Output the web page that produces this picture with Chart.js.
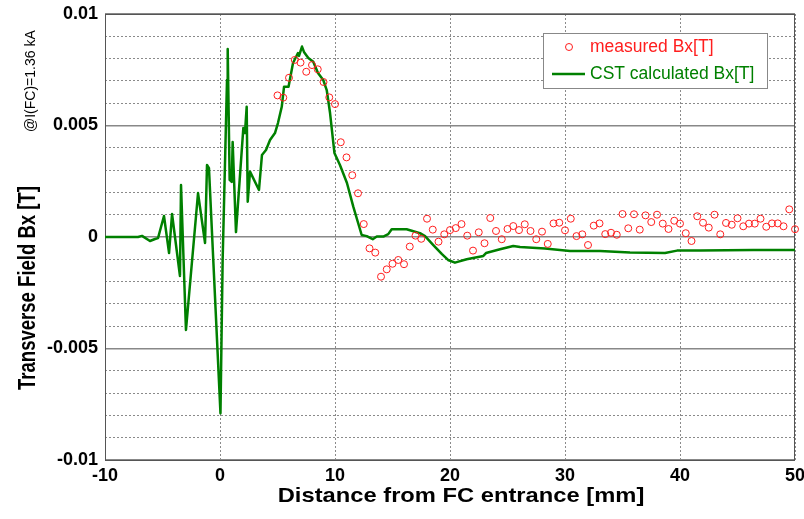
<!DOCTYPE html>
<html><head><meta charset="utf-8">
<script src="https://cdn.jsdelivr.net/npm/chart.js@4.4.1/dist/chart.umd.min.js"></script>
<style>html,body{margin:0;padding:0;background:#fff}#wrap{width:804px;height:519px;position:relative}</style>
</head><body><div id="wrap"><canvas id="c" width="804" height="519"></canvas></div>
<script>
// ---- data ----
const seriesNames = ['measured Bx[T]', 'CST calculated Bx[T]'];
const xTitle = 'Distance from FC entrance [mm]';
const yTitle = 'Transverse Field Bx [T]';
const ySubTitle = '@I(FC)=1.36 kA';
const xTickValues = [-10, 0, 10, 20, 30, 40, 50];
const yTickValues = [-0.01, -0.005, 0, 0.005, 0.01];
const yTickLabels = ['-0.01', '-0.005', '0', '0.005', '0.01'];

const cstX = [-10, -7.13, -6.78, -6.09, -5.65, -5.39, -5.13, -4.87, -4.43, -4.17, -3.48, -3.39, -2.96, -1.91, -1.30, -1.13, -0.96,
  0.04, 0.23, 0.61, 0.67, 0.84, 1.02, 1.10, 1.39, 2.03, 2.17, 2.32, 2.41, 2.61, 3.39, 3.65, 4.0, 4.35, 4.78, 5.04, 5.37, 5.57,
  5.96, 6.35, 6.78, 6.87, 7.13, 7.30, 7.68, 8.11, 8.52, 8.98, 9.28, 9.57, 9.95, 10.43, 11.04, 11.59, 12.32, 12.76, 13.28, 13.63,
  14.2, 14.63, 14.93, 16.23, 17.39, 17.83, 18.55, 19.28, 19.83, 20.43, 21.45, 22.9, 23.13, 24.35, 25.5, 26.09, 28.26, 30.43,
  33.04, 35.65, 38.7, 39.74, 41.74, 46.35, 50];
const cstY = [0, 0, 0.00005, -0.00018, -0.00009, -0.00005, 0.00045, 0.00094, -0.00072, 0.00103, -0.00175, 0.00233, -0.00417,
  0.00197, -0.00027, 0.00323, 0.00309,
  -0.0079, -0.00103, 0.00704, 0.00843, 0.00256, 0.00247, 0.00426, 0.00022, 0.00489, 0.00466, 0.00584, 0.00158, 0.00293,
  0.00211, 0.00368, 0.0039, 0.00435, 0.00466, 0.00511, 0.00584, 0.00674,
  0.00674, 0.0078, 0.00825, 0.00812, 0.00854, 0.0083, 0.00803, 0.00786, 0.00735, 0.00704, 0.00659, 0.00556, 0.00377,
  0.00323, 0.00242, 0.00136, 0.00009, 0.00004, -0.0001, 0.00002,
  0.00002, 0.00013, 0.00035, 0.00035, 0.00017, 0.00004, -0.00036, -0.00076, -0.00103, -0.00115, -0.001, -0.00085,
  -0.00072, -0.00055, -0.0004, -0.00045, -0.00052, -0.00063,
  -0.00063, -0.0007, -0.00072, -0.00061, -0.00061, -0.00058, -0.00058];

const measX = [5, 5.5, 6, 6.5, 7, 7.5, 8, 8.5, 9, 9.5, 10, 10.5, 11, 11.5, 12, 12.5, 13, 13.5, 14, 14.5, 15, 15.5, 16, 16.5,
  17, 17.5, 18, 18.5, 19, 19.5, 20, 20.5, 21, 21.5, 22, 22.5, 23, 23.5, 24, 24.5, 25, 25.5, 26, 26.5, 27, 27.5, 28, 28.5,
  29, 29.5, 30, 30.5, 31, 31.5, 32, 32.5, 33, 33.5, 34, 34.5, 35, 35.5, 36, 36.5, 37, 37.5, 38, 38.5, 39, 39.5, 40, 40.5,
  41, 41.5, 42, 42.5, 43, 43.5, 44, 44.5, 45, 45.5, 46, 46.5, 47, 47.5, 48, 48.5, 49, 49.5, 50];
const measY = [0.00635, 0.00625, 0.00714, 0.00794, 0.00782, 0.00741, 0.00771, 0.00752, 0.00695, 0.00626, 0.00596,
  0.00425, 0.00357, 0.00277, 0.00196, 0.00058, -0.00051, -0.0007, -0.00178, -0.00145, -0.0012, -0.00103, -0.00122,
  -0.00043, 0.00006, -0.00008, 0.00082, 0.00033, -0.00021, 0.00012, 0.00031, 0.0004, 0.00058, 0.00006, -0.00061,
  0.00021, -0.00028, 0.00085, 0.00027, -0.0001, 0.00036, 0.00049, 0.00031, 0.00057, 0.00027, -0.0001, 0.00024,
  -0.00031, 0.00061, 0.00064, 0.0003, 0.00082, 0.00004, 0.00012, -0.00036, 0.00051, 0.00061, 0.00013, 0.00019,
  0.0001, 0.00103, 0.00039, 0.00102, 0.00033, 0.00097, 0.00067, 0.001, 0.0006, 0.00036, 0.00073, 0.0006, 0.00017,
  -0.00018, 0.00093, 0.00064, 0.00042, 0.001, 0.00012, 0.00063, 0.00055, 0.00084, 0.00048, 0.0006, 0.0006, 0.00082,
  0.00046, 0.00061, 0.00061, 0.00048, 0.00124, 0.00035];

// ---- styles ----
const RED = 'rgb(255,30,30)';
const GREEN = 'rgb(0,128,0)';
const FONT = '"Liberation Sans", Arial, sans-serif';
const isMajorY = v => yTickValues.some(t => Math.abs(t - v) < 1e-9);

const boxPlugin = {
  id: 'box',
  beforeDatasetsDraw(chart) {
    const {ctx, chartArea: a} = chart;
    ctx.save();
    ctx.strokeStyle = '#555';
    ctx.lineWidth = 1;
    ctx.strokeRect(a.left + 0.5, a.top + 0.5, a.right - a.left - 1, a.bottom - a.top);
    ctx.restore();
  }
};

const labelsPlugin = {
  id: 'labels',
  afterDraw(chart) {
    const ctx = chart.ctx;
    // y title (rotated, compressed along text direction)
    ctx.save();
    ctx.fillStyle = '#000';
    ctx.translate(35, 390);
    ctx.rotate(-Math.PI / 2);
    ctx.scale(0.806, 1);
    ctx.font = 'bold 23px ' + FONT;
    ctx.textAlign = 'left';
    ctx.textBaseline = 'alphabetic';
    ctx.fillText(yTitle, 0, 0);
    ctx.restore();
    ctx.save();
    ctx.fillStyle = '#000';
    ctx.translate(35, 132);
    ctx.rotate(-Math.PI / 2);
    ctx.font = '14px ' + FONT;
    ctx.textAlign = 'left';
    ctx.textBaseline = 'alphabetic';
    ctx.fillText(ySubTitle, 0, 0);
    ctx.restore();
    // x title
    ctx.save();
    ctx.fillStyle = '#000';
    ctx.translate(461, 502);
    ctx.scale(1.13, 1);
    ctx.font = 'bold 21px ' + FONT;
    ctx.textAlign = 'center';
    ctx.textBaseline = 'alphabetic';
    ctx.fillText(xTitle, 0, 0);
    ctx.restore();
    // legend
    ctx.save();
    ctx.fillStyle = '#fff';
    ctx.fillRect(543, 33, 224, 55);
    ctx.strokeStyle = '#888';
    ctx.lineWidth = 1;
    ctx.strokeRect(543.5, 33.5, 224, 55);
    ctx.strokeStyle = RED;
    ctx.beginPath();
    ctx.arc(569, 47, 3.5, 0, Math.PI * 2);
    ctx.stroke();
    ctx.strokeStyle = GREEN;
    ctx.lineWidth = 2.5;
    ctx.beginPath();
    ctx.moveTo(552, 74);
    ctx.lineTo(585, 74);
    ctx.stroke();
    ctx.font = '17.5px ' + FONT;
    ctx.textBaseline = 'middle';
    ctx.textAlign = 'left';
    ctx.fillStyle = RED;
    ctx.fillText(chart.data.datasets[0].label, 590, 47);
    ctx.fillStyle = GREEN;
    ctx.fillText(chart.data.datasets[1].label, 590, 74);
    ctx.restore();
  }
};

new Chart(document.getElementById('c'), {
  type: 'scatter',
  data: {
    datasets: [
      {
        label: seriesNames[0],
        data: measX.map((x, i) => ({x, y: measY[i]})),
        showLine: false,
        pointStyle: 'circle',
        pointRadius: 3.5,
        pointBorderWidth: 1,
        borderColor: RED,
        backgroundColor: 'rgba(0,0,0,0)',
        clip: 8
      },
      {
        label: seriesNames[1],
        data: cstX.map((x, i) => ({x, y: cstY[i]})),
        showLine: true,
        borderColor: GREEN,
        backgroundColor: GREEN,
        borderWidth: 2.5,
        pointRadius: 0,
        tension: 0,
        borderJoinStyle: 'round'
      }
    ]
  },
  options: {
    responsive: false,
    animation: false,
    devicePixelRatio: 1,
    layout: {padding: {top: 14, right: 9, left: 0, bottom: 0}},
    plugins: {legend: {display: false}, tooltip: {enabled: false}, title: {display: false}},
    scales: {
      x: {
        type: 'linear', min: -10, max: 50,
        afterBuildTicks: s => { s.ticks = xTickValues.map(v => ({value: v})); },
        afterFit: s => { s.height = 59; s.paddingLeft = 0; s.paddingRight = 0; },
        ticks: {font: {family: FONT, size: 18, weight: 'bold'}, color: '#000', padding: 5, maxRotation: 0, autoSkip: false},
        grid: {color: '#8a8a8a', lineWidth: 1, drawTicks: false},
        border: {display: false, dash: [2, 2]}
      },
      y: {
        type: 'linear', min: -0.01, max: 0.01,
        ticks: {
          stepSize: 0.001, autoSkip: false,
          font: {family: FONT, size: 18, weight: 'bold'}, color: '#000', padding: 7,
          callback: v => { const i = yTickValues.findIndex(t => Math.abs(t - v) < 1e-9); return i >= 0 ? yTickLabels[i] : ''; }
        },
        afterFit: s => { s.width = 105; s.paddingTop = 0; s.paddingBottom = 0; },
        grid: {
          color: c => (c.tick && isMajorY(c.tick.value)) ? '#888' : '#8a8a8a',
          lineWidth: c => (c.tick && isMajorY(c.tick.value)) ? 1.5 : 1,
          drawTicks: false
        },
        border: {display: false, dash: c => (c.tick && isMajorY(c.tick.value)) ? [] : [2, 2]}
      }
    }
  },
  plugins: [boxPlugin, labelsPlugin]
});
</script>
</body></html>
